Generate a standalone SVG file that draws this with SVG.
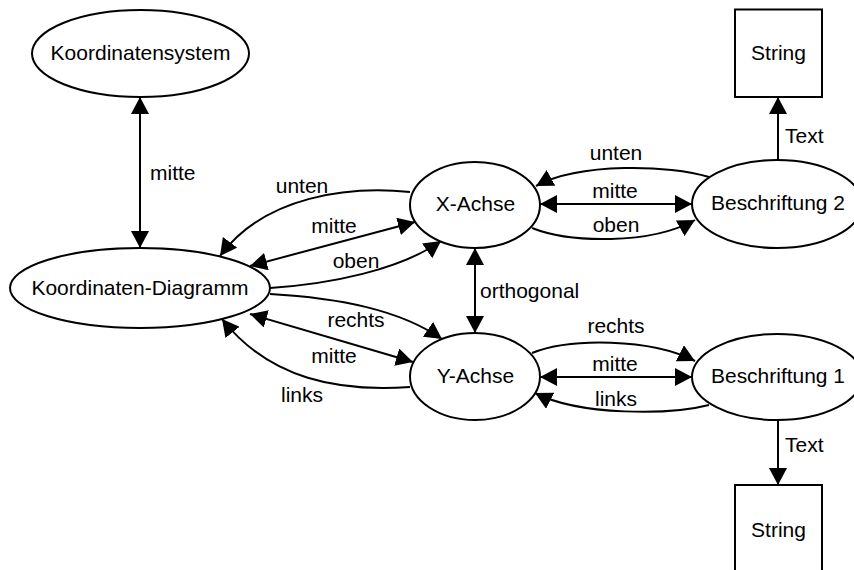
<svg xmlns="http://www.w3.org/2000/svg" width="854" height="570" viewBox="0 0 854 570">
  <style>
    .node { fill: #ffffff; stroke: #000000; stroke-width: 2; }
    .edge { fill: none; stroke: #000000; stroke-width: 2; }
    .lbl { font-family: "Liberation Sans", Arial, sans-serif; font-size: 21px; fill: #000000; }
    .mid { text-anchor: middle; }
  </style>
  <defs>
    <marker id="arrow" viewBox="0 0 17 18" refX="17" refY="9" markerWidth="17" markerHeight="18" markerUnits="userSpaceOnUse" orient="auto-start-reverse">
      <path d="M0,0 L17,9 L0,18 z" fill="#000000"/>
    </marker>
  </defs>
  <rect width="854" height="570" fill="#ffffff"/>

  <g id="connectors">
    <!-- Koordinatensystem <-> Koordinaten-Diagramm -->
    <path class="edge" d="M140,97 L140,248" marker-start="url(#arrow)" marker-end="url(#arrow)"/>
    <!-- Koordinaten-Diagramm <-> X-Achse -->
    <path class="edge" d="M410,192 C350,186 265,195 220,256" marker-end="url(#arrow)"/>
    <path class="edge" d="M250,266 L415,222" marker-start="url(#arrow)" marker-end="url(#arrow)"/>
    <path class="edge" d="M270,288 C330,284 400,270 441,241" marker-end="url(#arrow)"/>
    <!-- Koordinaten-Diagramm <-> Y-Achse -->
    <path class="edge" d="M270,294 C340,298 400,310 442,339" marker-end="url(#arrow)"/>
    <path class="edge" d="M250,314 L413,362" marker-start="url(#arrow)" marker-end="url(#arrow)"/>
    <path class="edge" d="M410,387 C340,392 270,380 222,319" marker-end="url(#arrow)"/>
    <!-- X-Achse <-> Y-Achse -->
    <path class="edge" d="M475,248 L475,333" marker-start="url(#arrow)" marker-end="url(#arrow)"/>
    <!-- X-Achse <-> Beschriftung 2 -->
    <path class="edge" d="M709,177 C670,165 580,162 536,186" marker-end="url(#arrow)"/>
    <path class="edge" d="M540,204 L692,204" marker-start="url(#arrow)" marker-end="url(#arrow)"/>
    <path class="edge" d="M532,228 C570,243 650,245 695,220" marker-end="url(#arrow)"/>
    <!-- Y-Achse <-> Beschriftung 1 -->
    <path class="edge" d="M532,353 C570,338 650,338 695,361" marker-end="url(#arrow)"/>
    <path class="edge" d="M540,377 L692,377" marker-start="url(#arrow)" marker-end="url(#arrow)"/>
    <path class="edge" d="M709,405 C670,415 580,416 535,393" marker-end="url(#arrow)"/>
    <!-- Beschriftung -> String -->
    <path class="edge" d="M778,160 L778,97" marker-end="url(#arrow)"/>
    <path class="edge" d="M778,420 L778,485" marker-end="url(#arrow)"/>

    <!-- edge labels -->
    <text class="lbl" x="150" y="180">mitte</text>
    <text class="lbl mid" x="302" y="193">unten</text>
    <text class="lbl mid" x="334" y="233">mitte</text>
    <text class="lbl mid" x="356" y="268">oben</text>
    <text class="lbl" x="480" y="298">orthogonal</text>
    <text class="lbl mid" x="356" y="327">rechts</text>
    <text class="lbl mid" x="334" y="363">mitte</text>
    <text class="lbl mid" x="302" y="402">links</text>
    <text class="lbl mid" x="616" y="160">unten</text>
    <text class="lbl mid" x="615" y="198">mitte</text>
    <text class="lbl mid" x="616" y="232">oben</text>
    <text class="lbl mid" x="616" y="333">rechts</text>
    <text class="lbl mid" x="615" y="371">mitte</text>
    <text class="lbl mid" x="616" y="406">links</text>
    <text class="lbl" x="785" y="143">Text</text>
    <text class="lbl" x="785" y="452">Text</text>
  </g>

  <g id="koordinatensystem">
    <ellipse class="node" cx="140.5" cy="53.5" rx="108.5" ry="43.5"/>
    <text class="lbl mid" x="140.5" y="60">Koordinatensystem</text>
  </g>
  <g id="koordinaten-diagramm">
    <ellipse class="node" cx="140" cy="288" rx="130" ry="40"/>
    <text class="lbl mid" x="140" y="295">Koordinaten-Diagramm</text>
  </g>
  <g id="x-achse">
    <ellipse class="node" cx="475" cy="205" rx="65" ry="43"/>
    <text class="lbl mid" x="475.5" y="211">X-Achse</text>
  </g>
  <g id="y-achse">
    <ellipse class="node" cx="475" cy="376.5" rx="65" ry="43.5"/>
    <text class="lbl mid" x="475.5" y="383">Y-Achse</text>
  </g>
  <g id="beschriftung-2">
    <ellipse class="node" cx="777" cy="204" rx="85" ry="44"/>
    <text class="lbl mid" x="778" y="210" textLength="134" lengthAdjust="spacingAndGlyphs">Beschriftung 2</text>
  </g>
  <g id="beschriftung-1">
    <ellipse class="node" cx="777" cy="377" rx="85" ry="43"/>
    <text class="lbl mid" x="778" y="383" textLength="134" lengthAdjust="spacingAndGlyphs">Beschriftung 1</text>
  </g>
  <g id="string-oben">
    <rect class="node" x="735" y="9.5" width="87" height="87.5"/>
    <text class="lbl mid" x="778.5" y="60">String</text>
  </g>
  <g id="string-unten">
    <rect class="node" x="735" y="485" width="87" height="88"/>
    <text class="lbl mid" x="778.5" y="537">String</text>
  </g>
</svg>
